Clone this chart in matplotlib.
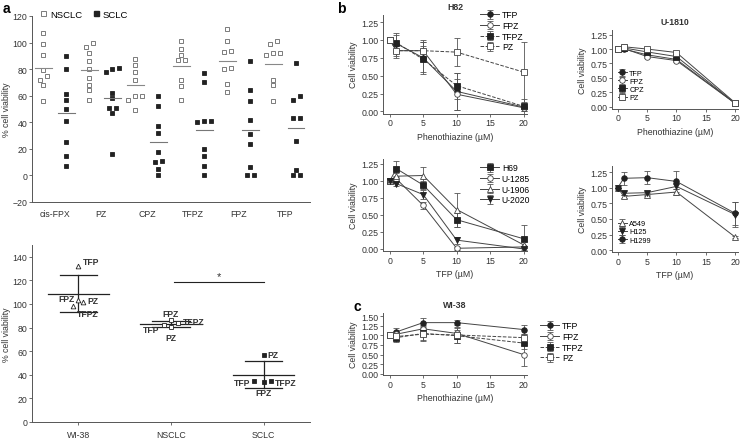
import numpy as np
import matplotlib
matplotlib.use('Agg')
import matplotlib.pyplot as plt
from matplotlib.lines import Line2D

plt.rcParams['font.family'] = ['Liberation Sans', 'DejaVu Sans']
plt.rcParams['font.size'] = 6.3

W, H = 742, 439

# ---- data: panel a (top), % cell viability per cell line ----
drugs_a = ['cis-FPX', 'PZ', 'CPZ', 'TFPZ', 'FPZ', 'TFP']
nsclc_vals = [
    [107, 99, 91, 79, 75, 72, 68, 56],
    [100, 97, 92, 86, 80, 73, 68, 64, 57],
    [88, 83, 78, 72, 60, 57, 60, 49],
    [101, 95, 91, 87, 87, 72, 67, 57],
    [110, 101, 94, 93, 80, 81, 69, 63],
    [101, 99, 92, 91, 92, 72, 68, 56],
]
sclc_vals = [
    [90, 80, 61, 57, 50, 41, 25, 15, 7],
    [81, 80, 78, 62, 58, 51, 51, 47, 16],
    [60, 52, 37, 32, 18, 11, 10, 5, 0],
    [77, 70, 41, 40, 41, 20, 15, 7, 0],
    [86, 64, 56, 42, 31, 24, 6, 0, 0],
    [85, 60, 57, 43, 43, 26, 4, 0, 0],
]

# ---- data: panel a (bottom), mean viability per drug ----
groups_b = ['WI-38', 'NSCLC', 'SCLC']
drug_labels_b = ['TFP', 'FPZ', 'TFPZ', 'PZ']
wi38_means = [132.5, 103.6, 98.0, 101.4]
nsclc_means = [82.2, 86.4, 83.6, 80.2]
sclc_means = [35.0, 33.5, 34.6, 57.0]

# ---- data: panel b / c dose responses ----
dose = [0, 1, 5, 10, 20]

h82_names = ['TFP', 'FPZ', 'TFPZ', 'PZ']
h82_mean = [[1.00, 0.95, 0.75, 0.28, 0.06],
            [1.00, 0.85, 0.85, 0.24, 0.05],
            [1.00, 0.96, 0.73, 0.36, 0.07],
            [1.00, 0.85, 0.85, 0.83, 0.55]]
h82_err = [[0, 0.12, 0.22, 0.26, 0.05],
           [0, 0.10, 0.15, 0.22, 0.04],
           [0, 0.14, 0.18, 0.18, 0.10],
           [0, 0.08, 0.12, 0.20, 0.42]]

u1810_names = ['TFP', 'FPZ', 'CPZ', 'PZ']
u1810_mean = [[1.00, 1.00, 0.90, 0.82, 0.06],
              [1.00, 1.01, 0.87, 0.80, 0.06],
              [1.00, 1.02, 0.95, 0.87, 0.06],
              [1.00, 1.04, 1.00, 0.94, 0.07]]
u1810_err = [[0, 0.03, 0.02, 0.02, 0.01],
             [0, 0.03, 0.02, 0.02, 0.01],
             [0, 0.04, 0.02, 0.02, 0.01],
             [0, 0.05, 0.02, 0.02, 0.01]]

sclc_lines = ['H69', 'U-1285', 'U-1906', 'U-2020']
sclc_mean = [[1.00, 1.18, 0.94, 0.43, 0.15],
             [1.00, 1.03, 0.64, 0.01, 0.03],
             [1.00, 1.07, 1.08, 0.58, 0.06],
             [1.00, 0.96, 0.80, 0.13, 0.00]]
sclc_err = [[0, 0.12, 0.06, 0.10, 0.20],
            [0, 0.04, 0.05, 0.02, 0.02],
            [0, 0.05, 0.13, 0.25, 0.05],
            [0, 0.04, 0.06, 0.05, 0.02]]

nsclc_lines = ['A549', 'H125', 'H1299']
nsclc_mean = [[1.00, 0.86, 0.89, 0.93, 0.21],
              [1.00, 0.91, 0.92, 1.02, 0.57],
              [1.00, 1.15, 1.16, 1.10, 0.59]]
nsclc_err = [[0, 0.03, 0.03, 0.05, 0.02],
             [0, 0.03, 0.03, 0.04, 0.20],
             [0, 0.10, 0.10, 0.17, 0.18]]

wi_names = ['TFP', 'FPZ', 'TFPZ', 'PZ']
wi_mean = [[1.00, 1.09, 1.33, 1.33, 1.15],
           [1.00, 1.03, 1.17, 1.05, 0.50],
           [1.00, 0.94, 1.05, 0.99, 0.80],
           [1.00, 0.97, 1.03, 1.01, 0.94]]
wi_err = [[0, 0.10, 0.12, 0.07, 0.12],
          [0, 0.06, 0.10, 0.10, 0.30],
          [0, 0.06, 0.20, 0.20, 0.15],
          [0, 0.15, 0.15, 0.20, 0.10]]

DARK = '#222222'
GREY = '#555555'
TXT = '#333333'
FS = 6.3


def px_axes(fig, left, top, right, bottom):
    return fig.add_axes([left / W, 1 - bottom / H, (right - left) / W, (bottom - top) / H])


def style(ax):
    for s in ['top', 'right']:
        ax.spines[s].set_visible(False)
    for s in ['left', 'bottom']:
        ax.spines[s].set_color(GREY)
        ax.spines[s].set_linewidth(0.7)
    ax.tick_params(length=2, width=0.6, color=GREY, labelsize=FS, labelcolor=TXT, pad=1.5)


def swarm(vals, tol, step):
    # spread points with nearly equal values side by side
    vals = np.asarray(vals, float)
    order = np.argsort(vals)
    offs = np.zeros(len(vals))
    i = 0
    while i < len(order):
        j = i
        while j + 1 < len(order) and vals[order[j + 1]] - vals[order[j]] < tol:
            j += 1
        n = j - i + 1
        for k in range(n):
            offs[order[i + k]] = (k - (n - 1) / 2) * step
        i = j + 1
    return offs


fig = plt.figure(figsize=(W / 100, H / 100), dpi=100)

# ---------------- panel a top ----------------
ax = px_axes(fig, 32, 17, 310, 203)
style(ax)
for i in range(len(drugs_a)):
    for vals, dx, fc, lc in [(nsclc_vals[i], -0.25, 'white', '#888888'),
                             (sclc_vals[i], 0.25, DARK, '#777777')]:
        xs = i + dx + swarm(vals, 3.5, 0.15)
        ax.plot(xs, vals, ls='none', marker='s', ms=3.0, mfc=fc,
                mec='#666666' if fc == 'white' else DARK, mew=0.6)
        m = np.mean(vals)
        ax.plot([i + dx - 0.18, i + dx + 0.18], [m, m], color=lc, lw=0.8)
ax.set_xlim(-0.5, 5.55)
ax.set_ylim(-20, 120)
ax.set_yticks(range(-20, 121, 20))
ax.set_xticks(range(len(drugs_a)))
ax.set_xticklabels(drugs_a)
ax.tick_params(axis='x', length=0, pad=5)
ax.set_ylabel('% cell viability', fontsize=FS, color=TXT, labelpad=1)
hs = [Line2D([], [], ls='none', marker='s', ms=3.6, mfc='white', mec='#666666', mew=0.6),
      Line2D([], [], ls='none', marker='s', ms=3.6, mfc=DARK, mec=DARK)]
ax.legend(hs, ['NSCLC', 'SCLC'], ncol=2, loc='upper left', bbox_to_anchor=(0.0, 1.07),
          frameon=False, fontsize=6.8, handletextpad=0.2, columnspacing=1.0, borderpad=0.2,
          handlelength=1.0)

# ---------------- panel a bottom ----------------
ax = px_axes(fig, 32, 246, 310, 423)
style(ax)
grp_data = [wi38_means, nsclc_means, sclc_means]
grp_mk = [('^', 'white'), ('s', 'white'), ('s', DARK)]
offsets = [
    {'TFP': (3, 3, 'left'), 'FPZ': (-3, 1, 'right'), 'TFPZ': (3, -5, 'left'), 'PZ': (3, 1, 'left')},
    {'TFP': (-3, -3, 'right'), 'FPZ': (0, 4.5, 'center'), 'TFPZ': (3, 1, 'left'), 'PZ': (0, -7, 'center')},
    {'TFP': (-3, -1, 'right'), 'FPZ': (0, -7, 'center'), 'TFPZ': (3, -1, 'left'), 'PZ': (3, 0, 'left')},
]
grp_dx = [[0.0, 0.0, -0.06, 0.05], [-0.08, 0.0, 0.08, 0.0], [-0.1, 0.0, 0.08, 0.0]]
for g, vals in enumerate(grp_data):
    m = np.mean(vals)
    sd = np.std(vals, ddof=1)
    ax.plot([g - 0.33, g + 0.33], [m, m], color=DARK, lw=0.9)
    ax.plot([g, g], [m - sd, m + sd], color=DARK, lw=0.9)
    for y in (m - sd, m + sd):
        ax.plot([g - 0.2, g + 0.2], [y, y], color=DARK, lw=0.9)
    mk, fc = grp_mk[g]
    for k, name in enumerate(drug_labels_b):
        x = g + grp_dx[g][k]
        ax.plot(x, vals[k], ls='none', marker=mk, ms=3.4, mfc=fc, mec=DARK, mew=0.6)
        ox, oy, ha = offsets[g][name]
        ax.annotate(name, (x, vals[k]), xytext=(ox, oy), textcoords='offset points',
                    ha=ha, va='center', fontsize=6.2, fontweight='bold', color=TXT)
ax.plot([1.03, 2.0], [118.6, 118.6], color=DARK, lw=0.8)
ax.text(1.52, 124, '*', ha='center', va='center', fontsize=8, color=TXT)
ax.set_xlim(-0.5, 2.5)
ax.set_ylim(0, 150)
ax.set_yticks(range(0, 141, 20))
ax.set_xticks(range(3))
ax.set_xticklabels(groups_b)
ax.tick_params(axis='x', pad=4)
ax.set_ylabel('% cell viability', fontsize=FS, color=TXT, labelpad=1)


# ---------------- panels b / c ----------------
def dose_panel(box, names, means, errs, mks, lss, ylim, yticks, xlabel, title=None):
    ax = px_axes(fig, *box)
    style(ax)
    for name, m, e, (mk, fc), ls in zip(names, means, errs, mks, lss):
        ax.errorbar(dose, m, yerr=e, color='#444444', ls=ls, lw=0.7, marker=mk, ms=4.0,
                    mfc=fc, mec=DARK if fc != 'white' else '#444444', mew=0.6,
                    ecolor='#555555', elinewidth=0.6, capsize=2.0, capthick=0.6, label=name)
    ax.set_xlim(-1, 20.5)
    ax.set_xticks([0, 5, 10, 15, 20])
    ax.set_ylim(*ylim)
    ax.set_yticks(yticks)
    ax.set_yticklabels(['%.2f' % t for t in yticks])
    ax.set_xlabel(xlabel, fontsize=FS, color=TXT, labelpad=3)
    ax.set_ylabel('Cell viability', fontsize=FS, color=TXT, labelpad=2)
    if title:
        ax.set_title(title, fontsize=6.3, fontweight='bold', color=TXT, pad=4)
    return ax


yt125 = [0, 0.25, 0.5, 0.75, 1.0, 1.25]
mk4 = [('o', DARK), ('o', 'white'), ('s', DARK), ('s', 'white')]
leg_out = dict(frameon=False, fontsize=6.2, handlelength=2.2, handletextpad=0.3,
               labelspacing=0.2, borderpad=0)
leg_in = dict(frameon=False, fontsize=5.2, handlelength=1.3, handletextpad=0.3,
              labelspacing=0.15, borderpad=0.3)

ax = dose_panel((383, 16, 527, 114.5), h82_names, h82_mean, h82_err, mk4,
                ['-', '-', '--', '--'], (-0.03, 1.35), yt125, 'Phenothiazine (\u00b5M)', 'H82')
ax.legend(loc='upper left', bbox_to_anchor=(476 / W, 1 - 7 / H), bbox_transform=fig.transFigure, **leg_out)

ax = dose_panel((612, 31, 738, 109.5), u1810_names, u1810_mean, u1810_err,
                [('o', DARK), ('o', 'white'), ('s', DARK), ('s', 'white')],
                ['-', '-', '-', '-'], (-0.03, 1.33), yt125, 'Phenothiazine (\u00b5M)', 'U-1810')
ax.legend(loc='lower left', bbox_to_anchor=(0.0, 0.02), **leg_in)

ax = dose_panel((383, 159.5, 527, 252), sclc_lines, sclc_mean, sclc_err,
                [('s', DARK), ('o', 'white'), ('^', 'white'), ('v', DARK)],
                ['-', '-', '-', '-'], (-0.03, 1.33), yt125, 'TFP (\u00b5M)')
ax.legend(loc='upper left', bbox_to_anchor=(476 / W, 1 - 160 / H), bbox_transform=fig.transFigure, **leg_out)

ax = dose_panel((612, 166.8, 738, 253), nsclc_lines, nsclc_mean, nsclc_err,
                [('^', 'white'), ('v', DARK), ('o', DARK)],
                ['-', '-', '-'], (-0.03, 1.35), yt125, 'TFP (\u00b5M)')
ax.legend(loc='lower left', bbox_to_anchor=(0.0, 0.03), **leg_in)

ax = dose_panel((383, 314, 527, 376), wi_names, wi_mean, wi_err, mk4,
                ['-', '-', '--', '--'], (-0.03, 1.58), [0, 0.25, 0.5, 0.75, 1.0, 1.25, 1.5],
                'Phenothiazine (\u00b5M)', 'WI-38')
ax.legend(loc='upper left', bbox_to_anchor=(536 / W, 1 - 318 / H), bbox_transform=fig.transFigure, **leg_out)

# panel letters
fig.text(3 / W, 1 - 9 / H, 'a', fontsize=10, fontweight='bold', va='center')
fig.text(337 / W, 1 - 9 / H, 'b', fontsize=10, fontweight='bold', va='center')
fig.text(354 / W, 1 - 307 / H, 'c', fontsize=10, fontweight='bold', va='center')

fig.savefig('out.png', dpi=100)
